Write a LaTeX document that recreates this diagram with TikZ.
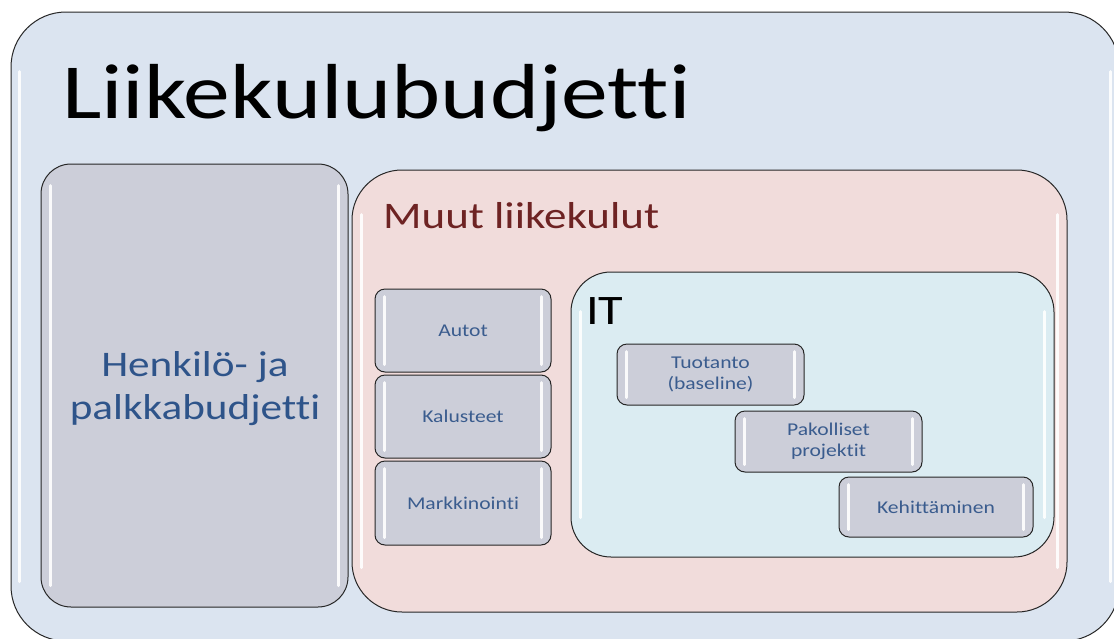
\documentclass[tikz,border=0pt]{standalone}
\usepackage{fontspec}
\setmainfont{Carlito}[FakeStretch=1.2, Ligatures=NoCommon]
\usetikzlibrary{calc}
\definecolor{outerfill}{HTML}{DBE4F0}
\definecolor{greyfill}{HTML}{CCCED9}
\definecolor{pinkfill}{HTML}{F1DCDB}
\definecolor{itfill}{HTML}{DBECF2}
\definecolor{labelblue}{HTML}{3A5C8E}
\definecolor{henkblue}{HTML}{2E548A}
\definecolor{muutred}{HTML}{6E2323}
\tikzset{
  panel/.style={draw=black!85, line width=1pt, inner sep=0pt},
  smallbox/.style={panel, fill=greyfill, rounded corners=10pt, font=\fontsize{18}{21}\selectfont, text=labelblue, align=center},
  glossline/.style={white, line width=3pt, line cap=round, opacity=0.9}
}
\newcommand\glossy[3]{%
  \draw[glossline] ($(#1.north west)+(#2,#3)$) -- ($(#1.south west)+(#2,-#3)$);
  \draw[glossline] ($(#1.north east)+(-#2,#3)$) -- ($(#1.south east)+(-#2,-#3)$);}
\begin{document}
\begin{tikzpicture}[x=1pt,y=-1pt]
\useasboundingbox (0,0) rectangle (1114,638);
\clip (0,0) rectangle (1114,638);
\fill[white] (0,0) rectangle (1114,638);
% outer
\node[panel, fill=outerfill, rounded corners=55pt, minimum width=1108pt, minimum height=629pt] (outer) at (565,326.5) {};
\glossy{outer}{9}{60}
\node[anchor=base west, font=\fontsize{78}{90}\selectfont, inner sep=0pt] (title) at (62,118) {Liikekulubudjetti};
% grey
\node[panel, fill=greyfill, rounded corners=30pt, minimum width=307pt, minimum height=443pt] (henk) at (194.5,385.5) {};
\glossy{henk}{10}{22}
\node[font=\fontsize{36}{43}\selectfont, text=henkblue, align=center] (henktext) at (195,389) {Henkilö- ja\\palkkabudjetti};
% pink
\node[panel, fill=pinkfill, rounded corners=50pt, minimum width=715pt, minimum height=442pt] (muut) at (709.5,391) {};
\glossy{muut}{10}{45}
\node[anchor=base west, font=\fontsize{37.5}{44}\selectfont, text=muutred, inner sep=0pt] (muuttext) at (383,228) {Muut liikekulut};
% left small
\node[smallbox, minimum width=176pt, minimum height=83pt] (autot) at (463,330.5) {Autot};
\node[smallbox, minimum width=176pt, minimum height=83pt] (kalusteet) at (463,416.5) {Kalusteet};
\node[smallbox, minimum width=176pt, minimum height=84pt] (markk) at (463,503) {Markkinointi};
\glossy{autot}{10}{8}
\glossy{kalusteet}{10}{8}
\glossy{markk}{10}{8}
% IT
\node[panel, fill=itfill, rounded corners=40pt, minimum width=483pt, minimum height=285pt] (it) at (812.5,414.5) {};
\glossy{it}{10}{40}
\node[anchor=base west, font=\fontsize{42}{46}\selectfont, inner sep=0pt] (ittext) at (586,324) {IT};
\node[smallbox, minimum width=187pt, minimum height=61pt] (tuot) at (710.5,374.5) {Tuotanto\\(baseline)};
\node[smallbox, minimum width=187pt, minimum height=61pt] (pak) at (828.5,441.5) {Pakolliset\\projektit};
\node[smallbox, minimum width=194pt, minimum height=60pt] (keh) at (936,507) {Kehittäminen};
\glossy{tuot}{10}{8}
\glossy{pak}{10}{8}
\glossy{keh}{10}{8}
\end{tikzpicture}
\end{document}
